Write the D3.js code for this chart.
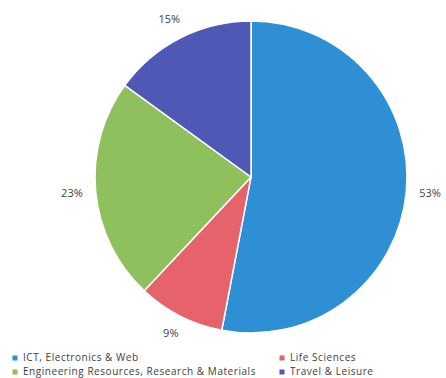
<!DOCTYPE html>
<html>
<head>
<meta charset="utf-8">
<script src="https://cdn.jsdelivr.net/npm/d3@7"></script>
<style>
  html, body { margin: 0; padding: 0; background: #fff; }
  svg text { font-family: "Open Sans", sans-serif; }
</style>
</head>
<body>
<div id="chart"></div>
<script>
// Sector shares (percent)
const categories = [
  "ICT, Electronics & Web",
  "Life Sciences",
  "Engineering Resources, Research & Materials",
  "Travel & Leisure"
];
const shares = [53, 9, 23, 15];
const colors = ["#2f8fd4", "#e6636b", "#8fc05e", "#5058b6"];

const width = 446, height = 378;
const cx = 251, cy = 177, radius = 156, labelDist = 169;

const svg = d3.select("#chart").append("svg")
  .attr("width", width).attr("height", height);

const data = categories.map((c, i) => ({ name: c, value: shares[i], color: colors[i] }));

const pie = d3.pie().value(d => d.value).sort(null);
const arc = d3.arc().innerRadius(0).outerRadius(radius);

const g = svg.append("g").attr("transform", `translate(${cx},${cy})`);
const arcs = pie(data);

g.selectAll("path.slice").data(arcs).join("path")
  .attr("class", "slice")
  .attr("d", arc)
  .attr("fill", d => d.data.color)
  .attr("stroke", "#fff")
  .attr("stroke-width", 1.5);

// Percent labels sit just outside the rim, pushed out by half their box
const labels = g.selectAll("text.pct").data(arcs).join("text")
  .attr("class", "pct")
  .attr("text-anchor", "middle")
  .attr("dominant-baseline", "middle")
  .attr("font-size", 11)
  .attr("fill", "#404040")
  .text(d => d.data.value + "%");

labels.each(function(d) {
  const a = (d.startAngle + d.endAngle) / 2;
  const b = this.getBBox();
  const ux = Math.sin(a), uy = -Math.cos(a);
  const x = ux * labelDist + ux * b.width / 2;
  const y = uy * labelDist + uy * b.height / 2;
  d3.select(this).attr("transform", `translate(${x},${y})`);
});

// Legend: two columns, two rows
const legendPos = [
  { x: 15, y: 358 },
  { x: 282, y: 358 },
  { x: 15, y: 372 },
  { x: 282, y: 372 }
];
const legend = svg.append("g").selectAll("g").data(data).join("g")
  .attr("transform", (d, i) => `translate(${legendPos[i].x},${legendPos[i].y})`);
legend.append("rect")
  .attr("x", -2.5).attr("y", -2.5).attr("width", 5).attr("height", 5)
  .attr("fill", d => d.color);
legend.append("text")
  .attr("x", 8).attr("y", 0)
  .attr("dominant-baseline", "middle")
  .attr("font-size", 10)
  .attr("letter-spacing", 0.55)
  .attr("fill", "#404040")
  .text(d => d.name);
</script>
</body>
</html>
